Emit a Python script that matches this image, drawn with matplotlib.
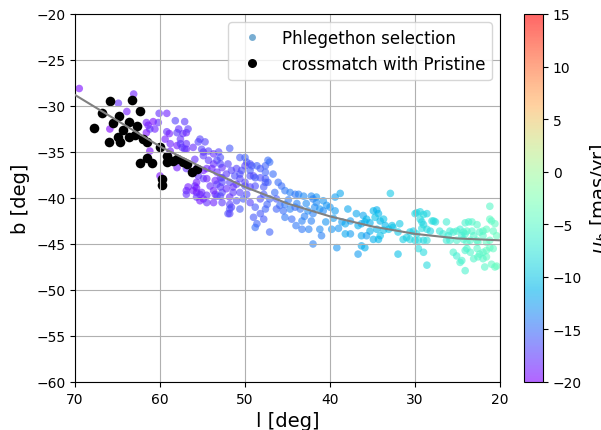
import matplotlib
matplotlib.use('Agg')
import matplotlib.pyplot as plt
from matplotlib.lines import Line2D

# Phlegethon selection: galactic l, b [deg] and proper motion mu_b [mas/yr]
l_sel = [69.5, 63.1, 64.9, 63.9, 60.1, 59.2, 65.9, 61.6, 60.8, 60.2, 58.2, 57.1, 57.8, 56.9, 61.2,
         59.2, 58.9, 59.4, 57.6, 56.7, 55.5, 58.0, 57.4, 56.9, 58.8, 61.2, 58.0, 56.9, 55.9, 55.7,
         60.0, 56.7, 55.9, 56.9, 55.7, 55.3, 54.9, 54.5, 53.7, 53.3, 54.1, 54.9, 55.7, 58.0, 54.7,
         54.3, 53.7, 53.3, 52.9, 51.8, 52.0, 52.7, 53.9, 54.9, 52.2, 52.9, 53.5, 51.8, 51.4, 51.0,
         50.6, 50.0, 49.8, 49.4, 50.0, 50.4, 49.4, 48.6, 48.2, 49.0, 48.2, 47.6, 47.3, 47.1, 47.6,
         46.7, 47.8, 49.4, 50.0, 50.6, 51.2, 51.6,
         56.9, 55.7, 52.7, 51.8, 51.6, 52.0, 50.6, 49.4, 48.8, 48.2, 47.6, 49.0, 48.6, 47.8, 47.1,
         46.5, 46.3, 46.1, 54.9, 54.3, 52.7, 53.5, 52.9, 50.2, 48.8, 47.1,
         45.7, 45.3, 44.7, 44.1, 43.7, 43.1, 42.2, 41.6, 42.0, 41.6, 40.8, 39.4, 38.8, 45.9, 45.3,
         44.7, 44.1, 43.5, 46.3, 45.5, 45.3, 44.5, 43.3, 42.6, 42.0, 41.2, 40.8, 40.0, 39.4, 42.2,
         43.3, 42.5, 41.2, 41.0, 39.8, 42.0, 39.2, 38.6, 38.2, 37.6, 36.9, 36.7, 36.3, 35.9, 36.1,
         35.7, 34.9, 34.5, 34.3, 34.7, 34.1, 33.7, 33.5, 35.3, 34.5, 34.1, 34.9, 36.3, 35.7, 36.3,
         36.7, 32.9, 32.0, 32.0, 37.6, 39.0, 38.2, 35.3, 33.7, 33.1, 32.6, 31.8, 34.3, 31.4, 35.9,
         32.7, 31.0, 30.6,
         29.8, 29.0, 28.6, 29.4, 29.2, 28.6, 28.2, 27.8, 27.6, 30.2, 29.8, 30.6, 29.6, 29.0, 28.6,
         29.6, 28.6, 30.0, 29.4, 29.0, 28.0, 29.0, 29.2, 30.0,
         26.3, 25.9, 25.5, 25.1, 24.7, 24.3, 23.9, 23.7, 23.3, 22.7, 22.4, 22.0, 21.6, 21.0, 20.6,
         21.2, 27.1, 26.7, 26.1, 25.9, 25.1, 24.3, 23.5, 22.7, 22.0, 25.5, 25.1, 24.7, 24.1, 23.9,
         23.5, 22.7, 22.4, 21.6, 20.8, 21.8, 20.6, 26.3, 24.1, 21.2, 20.8, 20.4, 23.1, 23.3, 24.1,
         24.5, 23.9, 22.6, 21.6, 21.2, 24.1, 22.0, 21.6, 21.2, 24.5, 23.1, 22.6, 22.0, 21.0, 20.4,
         # dense part of the stream
         61.4, 60.6, 61.6, 57.3, 58.8, 57.6, 56.9, 55.3, 57.1, 56.1, 55.1, 54.9, 53.1, 53.7, 52.9,
         54.5, 53.3, 52.7, 50.6, 51.0, 49.2, 47.6, 47.3, 49.4, 48.8, 47.6, 50.0, 48.8, 50.6, 49.8,
         51.4, 52.2, 53.3, 54.5, 55.5, 56.1, 55.1, 55.7, 54.5, 53.7, 55.3, 52.9, 52.7, 51.8, 51.0,
         47.8, 47.4, 51.8, 48.2, 51.8,
         44.9, 43.9, 42.8, 41.8, 40.4, 43.0, 44.0, 40.5, 39.6, 37.9]
b_sel = [-28.1, -28.7, -29.7, -30.6, -30.8, -30.8, -32.5, -31.8, -31.7, -31.8, -31.6, -31.7, -32.5, -32.9, -32.5,
         -32.8, -33.0, -33.6, -33.6, -32.5, -33.9, -34.3, -34.5, -34.7, -34.9, -34.9, -36.7, -36.8, -35.8, -36.8,
         -37.6, -38.8, -38.7, -39.2, -38.9, -39.6, -40.1, -40.5, -40.5, -39.8, -38.7, -37.9, -38.3, -32.9, -33.9,
         -34.9, -35.2, -35.9, -35.6, -34.6, -36.3, -36.7, -36.8, -37.0, -37.4, -37.8, -38.1, -38.3, -38.8, -38.5,
         -35.6, -35.6, -36.1, -36.3, -36.5, -37.0, -37.0, -36.5, -36.8, -37.6, -37.8, -37.9, -38.3, -36.1, -37.2,
         -37.4, -38.8, -38.8, -38.7, -37.9, -37.6, -37.0,
         -39.6, -39.4, -39.4, -39.9, -41.0, -41.7, -41.2, -40.5, -41.0, -40.1, -41.2, -42.1, -42.8, -42.3, -40.1,
         -39.4, -40.1, -38.3, -35.0, -35.9, -38.3, -39.6, -38.8, -40.1, -43.2, -43.7,
         -38.7, -39.2, -39.4, -39.6, -39.6, -39.8, -39.8, -39.9, -40.1, -40.5, -40.3, -39.9, -39.5, -40.8, -40.7,
         -41.2, -41.0, -41.2, -41.2, -41.4, -42.1, -42.3, -42.5, -41.4, -41.7, -41.2, -41.4, -41.0, -41.4, -42.5,
         -43.4, -43.4, -43.4, -44.1, -43.4, -45.0, -45.4, -42.6, -42.8, -42.5, -41.7, -43.0, -42.8, -42.6, -41.9,
         -42.3, -41.4, -41.3, -41.7, -42.1, -42.5, -42.3, -43.0, -43.6, -43.4, -44.1, -44.5, -44.1, -44.1, -45.2,
         -46.1, -39.5, -43.7, -46.1, -43.9, -43.3, -43.9, -42.7, -43.5, -43.4, -43.2, -42.8, -44.5, -44.5, -45.4,
         -43.0, -44.3, -43.7,
         -41.6, -41.8, -41.7, -42.3, -42.6, -43.4, -43.6, -42.5, -42.6, -43.6, -43.9, -44.5, -44.6, -44.6, -44.6,
         -45.5, -47.3, -41.7, -41.5, -45.9, -42.5, -42.9, -43.3, -44.6,
         -42.6, -43.6, -43.7, -43.6, -43.4, -43.7, -43.6, -42.6, -42.6, -42.9, -43.7, -43.6, -43.4, -42.5, -42.8,
         -40.9, -43.6, -43.9, -44.1, -44.6, -44.6, -44.5, -44.6, -44.6, -44.1, -45.9, -46.3, -47.0, -47.9, -45.5,
         -45.9, -45.5, -46.1, -46.4, -45.5, -47.5, -47.5, -44.6, -42.7, -42.3, -43.6, -44.1, -44.1, -43.6, -43.9,
         -44.1, -44.8, -44.8, -44.8, -44.6, -45.7, -45.9, -45.7, -45.4, -46.8, -46.6, -46.4, -46.6, -47.2, -47.4,
         -32.1, -32.5, -32.9, -33.0, -34.1, -34.1, -34.1, -33.6, -34.7, -34.5, -34.7, -35.4, -35.0, -36.3, -36.3,
         -36.8, -37.2, -37.8, -37.4, -36.8, -36.5, -36.5, -35.9, -37.6, -37.8, -38.3, -38.3, -38.7, -39.4, -39.6,
         -39.4, -39.0, -38.5, -37.9, -37.6, -39.2, -39.4, -39.9, -39.7, -39.2, -40.3, -39.8, -40.5, -40.7, -40.3,
         -39.6, -40.7, -41.2, -41.7, -41.7,
         -40.2, -40.6, -40.6, -41.0, -40.8, -42.0, -43.0, -42.6, -42.2, -41.2]
pmb_sel = [-19.5, -18.5, -18, -19, -18, -18.5, -20, -19, -19.5, -18, -17, -17.5, -18, -18.5, -17,
           -18, -19, -19, -18, -17.5, -17, -19, -18, -18.5, -19, -19.5, -19, -18, -18, -18.5,
           -19.5, -19, -18, -18.5, -19, -18, -19, -18, -18.5, -17, -18, -17.5, -19, -17.5, -17,
           -17, -18, -17, -16.5, -16, -17, -18, -18.5, -19, -17.5, -18, -18.5, -17, -18, -17.5,
           -16, -15.5, -16, -16.5, -17, -16.5, -16, -15.5, -16, -17, -16.5, -16, -15.5, -15, -15.5,
           -15, -16, -17, -16.5, -17, -16.5, -17,
           -18, -19, -17, -18, -17, -16.5, -16, -17, -16, -16.5, -15.5, -16, -15.5, -16, -15.5,
           -15, -16, -15, -18, -17.5, -17, -18, -17.5, -16, -15, -15.5,
           -15, -14.5, -14, -14.5, -14, -13.5, -13.5, -13, -14, -13.5, -13, -12.5, -12, -15, -14.5,
           -14, -15, -14.5, -15.5, -15, -14.5, -15, -14, -13.5, -14, -13, -13.5, -13, -12.5, -14,
           -14.5, -14, -13.5, -14, -13, -14, -13, -12.5, -12, -12.5, -12, -11.5, -12, -11.5, -12,
           -11, -11, -11.5, -11, -10.5, -11, -10.5, -11, -11.5, -11, -10.5, -11.5, -12, -12.5, -12,
           -12.5, -10, -10, -10.5, -12.5, -13, -12, -11.5, -10.5, -10.5, -10, -10, -11, -9.5, -11.5,
           -10.5, -9.5, -9.5,
           -9, -8.5, -9, -8.5, -9, -8.5, -9, -8, -8.5, -9.5, -9, -9, -8.5, -9, -8,
           -8.5, -8.5, -9, -9, -8.5, -8.5, -9, -8.5, -9,
           -6.5, -7, -6.5, -6, -6.5, -6, -5.5, -6, -5.5, -5, -5.5, -5, -4.5, -5, -4.5,
           -5, -7.5, -7, -7, -6.5, -6, -6, -5.5, -5, -5, -6, -6.5, -6, -6, -5.5,
           -5.5, -5, -5, -4.5, -4.5, -5, -4.5, -7, -6, -4.5, -4.5, -4, -5.5, -5.5, -6,
           -6.5, -5.5, -5, -4.5, -4.5, -6, -5, -4.5, -4.5, -6, -5.5, -5, -5, -4.5, -4,
           -19, -18.5, -19.5, -18, -18.5, -17.5, -18, -17, -17.5, -18, -17, -17.5, -17, -18, -17,
           -18.5, -18, -17, -16.5, -17, -16, -15.5, -15, -16.5, -16, -16, -17, -16.5, -17, -16.5,
           -17.5, -18, -17.5, -18.5, -18, -19, -18.5, -18, -18, -18.5, -19, -17, -17.5, -17, -16.5,
           -16, -15.5, -16.5, -16, -17,
           -14.5, -14, -13.5, -13.5, -13, -14, -14.5, -13, -12.5, -12]

# stars crossmatched with Pristine
l_pri = [65.88, 63.33, 66.79, 62.35, 64.82, 65.49, 63.61, 67.76, 64.39, 62.74, 64.98, 63.61, 65.96,
         64.71, 62.94, 61.96, 61.49, 60.0, 59.14, 58.04, 56.86, 56.27, 61.56, 62.35, 60.98, 59.80,
         59.80, 59.21, 57.29, 55.65, 58.47]
b_pri = [-29.49, -29.32, -30.76, -30.58, -31.05, -31.88, -31.77, -32.42, -32.58, -32.21, -33.40, -33.40,
         -33.95, -33.95, -33.12, -33.59, -33.95, -34.49, -35.47, -35.76, -36.30, -37.21, -35.65, -36.20,
         -36.20, -37.93, -38.59, -36.12, -36.09, -36.85, -35.98]

# stream track
track_l = [70, 65, 60, 55, 50, 45, 40, 35, 30, 25, 20]
track_b = [-28.8, -31.6, -34.4, -36.7, -38.8, -40.6, -42.0, -43.1, -43.9, -44.4, -44.6]

fig = plt.figure(figsize=(6.01, 4.31), dpi=100)
ax = fig.add_axes([0.1248, 0.1114, 0.7072, 0.8538])
cax = fig.add_axes([0.872, 0.1114, 0.0316, 0.8538])

sc = ax.scatter(l_sel, b_sel, c=pmb_sel, cmap='rainbow', vmin=-20, vmax=15,
                s=30, alpha=0.6, linewidths=0)
ax.scatter(l_pri, b_pri, c='k', s=48, linewidths=0)
ax.plot(track_l, track_b, color='gray', lw=1.5, zorder=5)

ax.set_xlim(70, 20)
ax.set_ylim(-60, -20)
ax.set_xticks([70, 60, 50, 40, 30, 20])
ax.set_yticks(range(-60, -19, 5))
ax.grid(True)
ax.set_xlabel('l [deg]', fontsize=14)
ax.set_ylabel('b [deg]', fontsize=14)

handles = [Line2D([], [], ls='', marker='o', ms=5, color='C0', alpha=0.6, mew=0),
           Line2D([], [], ls='', marker='o', ms=6.5, color='k', mew=0)]
ax.legend(handles, ['Phlegethon selection', 'crossmatch with Pristine'],
          loc='upper right', fontsize=12)

cb = fig.colorbar(sc, cax=cax)
cb.set_ticks(range(-20, 16, 5))
cb.set_label(r'$\mu_b$ [mas/yr]', fontsize=14)

fig.savefig('out.png', dpi=100)
